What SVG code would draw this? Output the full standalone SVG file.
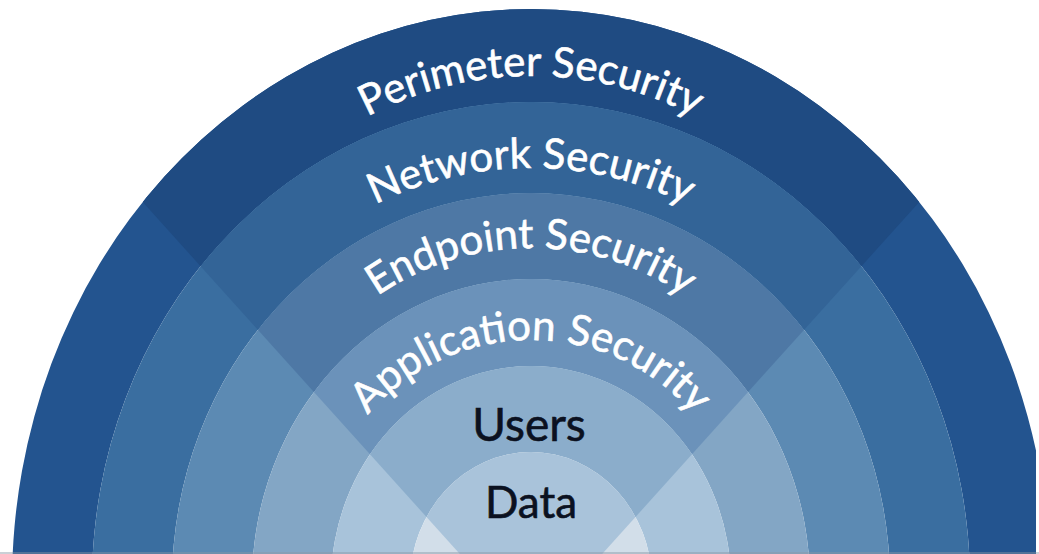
<svg xmlns="http://www.w3.org/2000/svg" width="1039" height="554" viewBox="0 0 1039 554">
<style>
.ring{fill-rule:evenodd}
.lbl{font-family:Lato,"Noto Sans",sans-serif;font-size:42px;fill:#ffffff;stroke:#ffffff;stroke-width:0.6px}
.core{font-family:Lato,"Noto Sans",sans-serif;fill:#0b1120;stroke:#0b1120;stroke-width:0.6px;text-anchor:middle}
</style>
<defs>
<clipPath id="wedge"><polygon points="531,633 -169,-144 1231,-144"/></clipPath>
<clipPath id="frame"><rect x="0" y="0" width="1036" height="554"/></clipPath>
<path id="arcP" d="M227.9 251 A350 350 0 0 1 834.1 251"/>
<path id="arcN" d="M227.9 343 A350 350 0 0 1 834.1 343"/>
<path id="arcE" d="M277.3 425.7 A270 270 0 0 1 784.7 425.7"/>
<path id="arcA" d="M323.3 499.4 A215 215 0 0 1 738.7 499.4"/>
</defs>
<rect width="1039" height="554" fill="#ffffff"/>
<g clip-path="url(#frame)">
<g id="perimeter">
<path class="ring" fill="#23548f" d="M12 583 A519 574 0 1 1 1050 583 A519 574 0 1 1 12 583 Z M92 583 A439 481 0 1 1 970 583 A439 481 0 1 1 92 583 Z"/>
<path class="ring" fill="#1f4b82" clip-path="url(#wedge)" d="M12 583 A519 574 0 1 1 1050 583 A519 574 0 1 1 12 583 Z M92 583 A439 481 0 1 1 970 583 A439 481 0 1 1 92 583 Z"/>
<text class="lbl"><textPath href="#arcP" startOffset="50%" text-anchor="middle">Perimeter Security</textPath></text>
</g>
<g id="network">
<path class="ring" fill="#3a6ea0" d="M92 583 A439 481 0 1 1 970 583 A439 481 0 1 1 92 583 Z M172 583 A359 390 0 1 1 890 583 A359 390 0 1 1 172 583 Z"/>
<path class="ring" fill="#336497" clip-path="url(#wedge)" d="M92 583 A439 481 0 1 1 970 583 A439 481 0 1 1 92 583 Z M172 583 A359 390 0 1 1 890 583 A359 390 0 1 1 172 583 Z"/>
<text class="lbl"><textPath href="#arcN" startOffset="50%" text-anchor="middle">Network Security</textPath></text>
</g>
<g id="endpoint">
<path class="ring" fill="#5c8ab3" d="M172 583 A359 390 0 1 1 890 583 A359 390 0 1 1 172 583 Z M252 583 A279 304 0 1 1 810 583 A279 304 0 1 1 252 583 Z"/>
<path class="ring" fill="#4e78a5" clip-path="url(#wedge)" d="M172 583 A359 390 0 1 1 890 583 A359 390 0 1 1 172 583 Z M252 583 A279 304 0 1 1 810 583 A279 304 0 1 1 252 583 Z"/>
<text class="lbl"><textPath href="#arcE" startOffset="50%" text-anchor="middle">Endpoint Security</textPath></text>
</g>
<g id="application">
<path class="ring" fill="#83a6c5" d="M252 583 A279 304 0 1 1 810 583 A279 304 0 1 1 252 583 Z M331 583 A200 217 0 1 1 731 583 A200 217 0 1 1 331 583 Z"/>
<path class="ring" fill="#6b92ba" clip-path="url(#wedge)" d="M252 583 A279 304 0 1 1 810 583 A279 304 0 1 1 252 583 Z M331 583 A200 217 0 1 1 731 583 A200 217 0 1 1 331 583 Z"/>
<text class="lbl"><textPath href="#arcA" startOffset="50%" text-anchor="middle">Application Security</textPath></text>
</g>
<g id="users">
<path class="ring" fill="#a8c3da" d="M331 583 A200 217 0 1 1 731 583 A200 217 0 1 1 331 583 Z M410 583 A121 131 0 1 1 652 583 A121 131 0 1 1 410 583 Z"/>
<path class="ring" fill="#8badcb" clip-path="url(#wedge)" d="M331 583 A200 217 0 1 1 731 583 A200 217 0 1 1 331 583 Z M410 583 A121 131 0 1 1 652 583 A121 131 0 1 1 410 583 Z"/>
<text class="core" x="529" y="441" font-size="46">Users</text>
</g>
<g id="data">
<path fill="#d2dee9" d="M410 583 A121 131 0 1 1 652 583 A121 131 0 1 1 410 583 Z"/>
<path fill="#a9c3da" clip-path="url(#wedge)" d="M410 583 A121 131 0 1 1 652 583 A121 131 0 1 1 410 583 Z"/>
<text class="core" x="531" y="518" font-size="44">Data</text>
</g>
</g>
<rect x="0" y="552" width="1039" height="2" fill="#8a96a3" opacity="0.45"/>
</svg>
